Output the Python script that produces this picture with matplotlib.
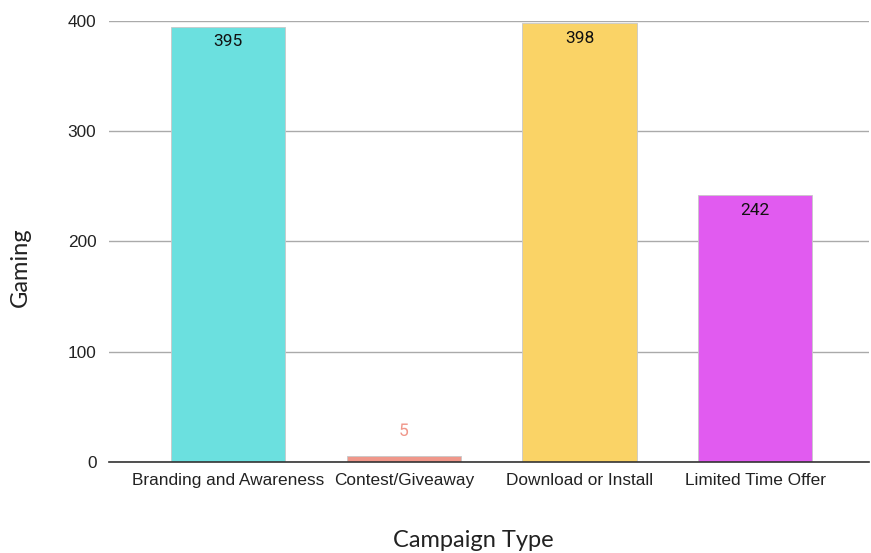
import matplotlib
matplotlib.use("Agg")
import matplotlib.pyplot as plt
import matplotlib.patheffects as pe

categories = ["Branding and Awareness", "Contest/Giveaway", "Download or Install", "Limited Time Offer"]
values = [395, 5, 398, 242]
colors = ["#6BE0DF", "#F0978A", "#FAD366", "#E15BF0"]

fig = plt.figure(figsize=(8.71, 5.53), dpi=100)
ax = fig.add_axes([0.125, 0.1646, 0.873, 0.7974])

x = range(len(categories))
bars = ax.bar(x, values, width=0.65, color=colors, edgecolor="#c8c8c8", linewidth=0.6, zorder=3)

for b, v, c in zip(bars, values, colors):
    cx = b.get_x() + b.get_width() / 2
    if v > 30:
        ax.text(cx, v - 7, str(v), ha="center", va="top", fontsize=12.5,
                family="Roboto", color="#111111", zorder=4)
    else:
        ax.text(cx, v + 16, str(v), ha="center", va="bottom", fontsize=12.5,
                family="Roboto", color=c, zorder=4,
                path_effects=[pe.withStroke(linewidth=2.5, foreground="white")])

ax.set_xlim(-0.68, 3.65)
ax.set_ylim(0, 400)
ax.set_yticks([0, 100, 200, 300, 400])
ax.set_xticks(list(x))
ax.set_xticklabels(categories, fontsize=12.4, family="Liberation Sans", color="#222222")
ax.tick_params(axis="y", labelsize=12.4, length=0, pad=9, labelcolor="#222222")
ax.tick_params(axis="x", length=0, pad=8)
for lab in ax.get_yticklabels():
    lab.set_family("Liberation Sans")

ax.grid(axis="y", color="#aaaaaa", linewidth=1, zorder=0)
for s in ["top", "right", "left"]:
    ax.spines[s].set_visible(False)
ax.spines["bottom"].set_color("#333333")
ax.spines["bottom"].set_linewidth(1.2)
ax.spines["bottom"].set_zorder(5)

ax.set_xlabel("Campaign Type", fontsize=17, family="Lato", color="#222222")
ax.set_ylabel("Gaming", fontsize=17, family="Lato", color="#222222")
ax.xaxis.set_label_coords(0.479, -0.155)
ax.yaxis.set_label_coords(-0.103, 0.442)

fig.savefig("out.png", dpi=100)
